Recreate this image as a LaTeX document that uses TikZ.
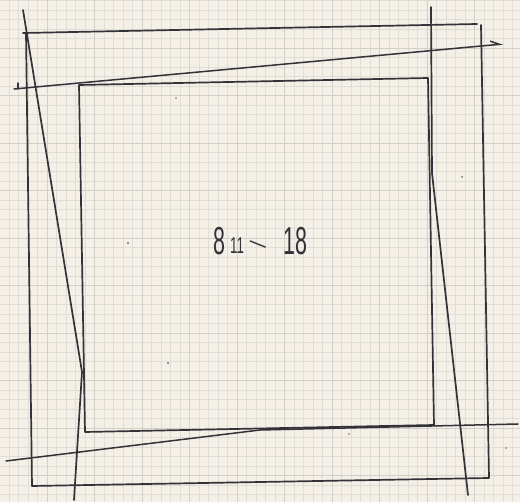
\documentclass[tikz,border=0pt]{standalone}
\usepackage{fontspec}
\setmainfont{Liberation Sans}
\usetikzlibrary{arrows.meta}
\definecolor{paper}{RGB}{244,240,231}
\definecolor{gridminorc}{RGB}{224,221,214}
\definecolor{gridmajorc}{RGB}{210,207,201}
\definecolor{ink}{RGB}{50,50,56}
\begin{document}
\begin{tikzpicture}[x=1pt,y=-1pt,
  pen/.style={draw=ink,line width=1.7pt,line cap=round,line join=round},
  gridminor/.style={draw=gridminorc,line width=0.5pt},
  gridmajor/.style={draw=gridmajorc,line width=0.8pt},
  hand/.style={inner sep=0pt,text=ink,anchor=center},
  speck/.style={fill=ink!70}]
\fill[paper] (0,0) rectangle (520,502);
\useasboundingbox (0,0) rectangle (520,502);
% graph paper
\foreach \i in {0,...,54} {\draw[gridminor] ({9+\i*9.5},0) -- ({9+\i*9.5},502);}
\foreach \i in {0,...,52} {\draw[gridminor] (0,{0.5+\i*9.5}) -- (520,{0.5+\i*9.5});}
\foreach \i in {0,...,9} {\draw[gridmajor] ({47+\i*47.5},0) -- ({47+\i*47.5},502);}
\foreach \i in {0,...,9} {\draw[gridmajor] (0,{48+\i*47.5}) -- (520,{48+\i*47.5});}
% coordinates
\coordinate (otl) at (26,33);
\coordinate (otlx) at (23,33);
\coordinate (otr) at (477,24);
\coordinate (ortop) at (481,25);
\coordinate (obr) at (489,478);
\coordinate (obl) at (32,486);
\coordinate (itl) at (79,85);
\coordinate (itr) at (428,78);
\coordinate (ibr) at (434,425);
\coordinate (ibl) at (85,432);
\coordinate (ls1) at (23,10);
\coordinate (ls2) at (82,372);
\coordinate (ls3) at (74,500);
\coordinate (rs1) at (431,7);
\coordinate (rs2) at (432,173);
\coordinate (rs3) at (468,495);
\coordinate (ar1) at (14,89);
\coordinate (ar2) at (503,44);
\coordinate (tk1) at (18,83);
\coordinate (tk2) at (18,89);
\coordinate (bs1) at (6,461);
\coordinate (bs2) at (260,430);
\coordinate (bs3) at (518,424);
% outer rectangle
\draw[pen] (otlx) -- (otr);
\draw[pen] (ortop) -- (obr) -- (obl) -- (otl);
% inner rectangle
\draw[pen] (itl) -- (itr) -- (ibr) -- (ibl) -- cycle;
% slanted strokes
\draw[pen] (ls1) -- (ls2) -- (ls3);
\draw[pen] (rs1) -- (rs2) -- (rs3);
\draw[pen,line width=1.5pt,-{Straight Barb[left,length=9pt,width=8pt]}] (ar1) -- (ar2);
\draw[pen,line width=1.2pt] (tk1) -- (tk2);
\draw[pen,line width=1.5pt] (bs1) -- (bs2) -- (bs3);
% text
\node[hand] (t8) at (219,241.5) {\scalebox{0.55}[1]{\fontsize{39}{39}\selectfont 8}};
\node[hand] (t11) at (237,245.5) {\scalebox{0.58}[1]{\fontsize{23}{23}\selectfont 11}};
\node[hand,rotate=-22] (tdash) at (257,246.5) {\scalebox{1.4}[1]{\fontsize{22}{22}\selectfont –}};
\node[hand] (t18) at (295.5,241) {\scalebox{0.55}[1]{\fontsize{39}{39}\selectfont 18}};
% specks
\fill[speck] (128,243) circle (1.1);
\fill[speck] (168,363) circle (1.1);
\fill[speck] (462,177) circle (1);
\fill[speck] (349,434) circle (0.9);
\fill[speck] (506,448) circle (0.9);
\fill[speck] (176,98) circle (0.8);
\end{tikzpicture}
\end{document}
